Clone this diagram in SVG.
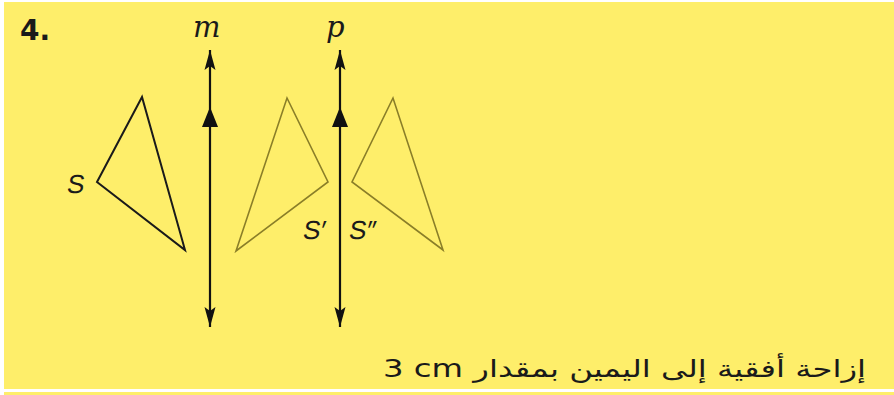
<svg xmlns="http://www.w3.org/2000/svg" width="894" height="395" viewBox="0 0 894 395">
<style>
.bg{fill:#FEEE6A}
.ax{stroke:#111;stroke-width:2.2;fill:none}
.tri0{fill:none;stroke:#1a1a1a;stroke-width:2;stroke-linejoin:miter}
.tri1{fill:none;stroke:#8a7e28;stroke-width:1.6;stroke-linejoin:miter}
.lbl{font-family:"Liberation Sans","DejaVu Sans",sans-serif;font-size:26px;fill:#1a1a1a}
.var{font-family:"DejaVu Serif","Liberation Serif",serif;font-style:italic;font-size:29px;fill:#1a1a1a}
.num{font-family:"DejaVu Sans","Liberation Sans",sans-serif;font-weight:bold;font-size:28px;fill:#1a1a1a}
.ar{font-family:"DejaVu Sans","Noto Sans",sans-serif;font-size:24px;fill:#1a1a1a}
</style>
<defs>
<marker id="tip" markerUnits="userSpaceOnUse" markerWidth="22" markerHeight="14" viewBox="0 -7 22 14" refX="20" refY="0" orient="auto-start-reverse">
<path d="M0,-5.5 L20,0 L0,5.5 L4,0 z" fill="#111"/>
</marker>
<marker id="mid" markerUnits="userSpaceOnUse" markerWidth="22" markerHeight="18" viewBox="0 -9 22 18" refX="10" refY="0" orient="auto">
<path d="M0,-8 L20,0 L0,8 z" fill="#111"/>
</marker>
</defs>
<rect class="bg" x="4" y="2" width="890" height="387"/>
<rect class="bg" x="4" y="392" width="890" height="3"/>
<g id="title"><text class="num" x="20" y="40">4.</text></g>
<g id="connectors">
<path class="ax" d="M210,327 L210,117 L210,50" marker-start="url(#tip)" marker-mid="url(#mid)" marker-end="url(#tip)"/>
<path class="ax" d="M340,327 L340,117 L340,50" marker-start="url(#tip)" marker-mid="url(#mid)" marker-end="url(#tip)"/>
</g>
<g id="line-m"><text class="var" x="193" y="37">m</text></g>
<g id="line-p"><text class="var" x="326" y="37">p</text></g>
<g id="S">
<polygon class="tri0" points="142,97 97,182 185,250"/>
<text class="lbl" transform="translate(66,193) skewX(-9)">S</text>
</g>
<g id="S1">
<polygon class="tri1" points="287,98 328,182 236,251"/>
<text class="lbl" transform="translate(302,239) skewX(-9)">S′</text>
</g>
<g id="S2">
<polygon class="tri1" points="393,98 352,182 443,250"/>
<text class="lbl" transform="translate(348,239) skewX(-9)">S″</text>
</g>
<g id="caption">
<text class="ar" x="866" y="377" direction="rtl" text-anchor="start" textLength="483" lengthAdjust="spacingAndGlyphs">إزاحة أفقية إلى اليمين بمقدار &#x2066;3 cm&#x2069;</text>
</g>
</svg>
